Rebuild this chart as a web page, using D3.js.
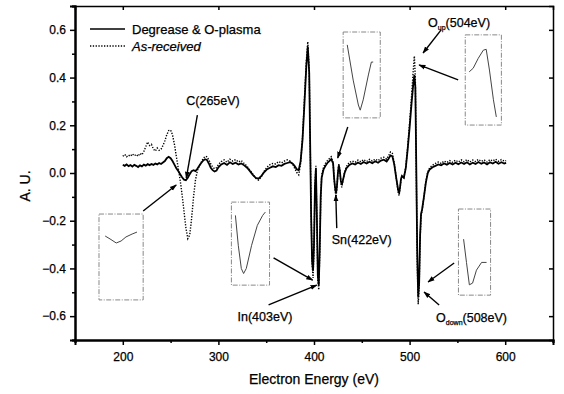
<!DOCTYPE html>
<html><head><meta charset="utf-8">
<script src="https://cdn.jsdelivr.net/npm/d3@7"></script>
<style>
html,body{margin:0;padding:0;background:#fff;}
text{font-family:"Liberation Sans",Arial,sans-serif;fill:#000;stroke:#000;stroke-width:0.25px;}
</style></head>
<body><svg id="c" width="564" height="394"></svg>
<script>
// ---- data ----
const xTicks = [200, 300, 400, 500, 600];
const yTicks = [-0.6, -0.4, -0.2, 0.0, 0.2, 0.4, 0.6];
const seriesNames = ["Degrease & O-plasma", "As-received"];

const solidE = [200,202,204,206,208,210,212,214,216,218,220,222,224,226,228,230,232,234,236,238,240,242,244,246,248,250,252,254,256,258,260,262,264,266,268,270,272,274,276,278,280,282,284,286,288,290,292,294,296,298,300,303,306,309,312,315,318,321,324,327,330,333,336,339,342,345,348,351,354,357,360,363,366,369,372,375,378,380,382,384,386,388,390,392,393.5,395,396,397,398,399,400,401,402,403,404,405,406,407,408,410,412,414,416,418,420,421,422,423,424,425,426,427,428,429,430,432,434,437,440,443,446,449,452,455,458,461,464,467,470,473,476,478,480,482,484,486,488,489,490,491,492,494,496,498,500,502,504,505,506,507,508,509,510,511,512,513,515,517,519,521,524,527,530,533,536,539,542,545,548,551,554,557,560,563,566,569,572,575,578,581,584,587,590,593,596,599,601];
const solidV = [0.035,0.03,0.036,0.029,0.033,0.027,0.034,0.03,0.025,0.032,0.028,0.035,0.031,0.037,0.033,0.038,0.034,0.04,0.036,0.042,0.038,0.044,0.05,0.062,0.068,0.062,0.05,0.035,0.02,0.008,-0.005,-0.018,-0.028,-0.03,-0.02,-0.005,0.008,0.012,0.008,0.018,0.03,0.042,0.052,0.058,0.055,0.04,0.022,0.012,0.006,0.01,0.024,0.036,0.042,0.034,0.045,0.038,0.043,0.036,0.04,0.032,0.022,0.008,-0.008,-0.02,-0.024,-0.012,0.004,0.016,0.022,0.028,0.025,0.033,0.03,0.038,0.042,0.046,0.038,0.028,0.016,0.012,0.05,0.14,0.29,0.45,0.53,0.42,0.12,-0.18,-0.37,-0.41,-0.3,-0.06,0.02,-0.18,-0.43,-0.47,-0.32,-0.1,-0.02,0.015,0.03,0.042,0.05,0.058,0.04,-0.02,-0.06,-0.085,-0.055,0.0,0.032,0.01,-0.03,-0.05,-0.035,0.0,0.02,0.034,0.04,0.036,0.044,0.038,0.046,0.04,0.047,0.041,0.049,0.043,0.052,0.056,0.048,0.06,0.074,0.07,0.035,-0.02,-0.07,-0.085,-0.06,-0.025,-0.012,-0.02,0.02,0.1,0.19,0.29,0.38,0.41,0.36,0.02,-0.34,-0.52,-0.46,-0.26,-0.17,-0.155,-0.1,-0.04,0.0,0.015,0.024,0.03,0.036,0.032,0.04,0.035,0.042,0.036,0.043,0.037,0.044,0.038,0.045,0.036,0.043,0.038,0.046,0.039,0.044,0.036,0.045,0.04,0.047,0.039,0.045,0.04,0.042];

const dotE = solidE.slice();
const dotV = [0.07,0.078,0.068,0.075,0.07,0.08,0.072,0.078,0.07,0.082,0.076,0.09,0.11,0.13,0.115,0.12,0.1,0.092,0.105,0.095,0.1,0.115,0.135,0.16,0.178,0.18,0.16,0.12,0.07,0.02,-0.03,-0.09,-0.16,-0.23,-0.275,-0.26,-0.19,-0.1,-0.03,0.01,0.03,0.045,0.06,0.07,0.068,0.055,0.038,0.025,0.018,0.022,0.035,0.048,0.055,0.045,0.058,0.05,0.056,0.046,0.052,0.04,0.028,0.012,-0.005,-0.022,-0.03,-0.015,0.008,0.025,0.035,0.04,0.038,0.048,0.042,0.05,0.055,0.05,0.035,0.018,0.002,-0.008,0.04,0.15,0.31,0.47,0.55,0.43,0.14,-0.16,-0.38,-0.44,-0.32,-0.05,0.03,-0.2,-0.45,-0.49,-0.34,-0.12,-0.01,0.025,0.04,0.052,0.06,0.068,0.045,-0.02,-0.07,-0.1,-0.065,0.0,0.04,0.015,-0.035,-0.06,-0.04,0.005,0.028,0.045,0.05,0.045,0.054,0.047,0.056,0.048,0.057,0.05,0.058,0.052,0.062,0.066,0.058,0.072,0.088,0.082,0.04,-0.02,-0.08,-0.095,-0.065,-0.03,-0.015,-0.02,0.025,0.11,0.21,0.32,0.44,0.49,0.4,0.0,-0.38,-0.55,-0.48,-0.28,-0.18,-0.16,-0.1,-0.035,0.005,0.022,0.033,0.04,0.046,0.04,0.05,0.044,0.052,0.045,0.054,0.046,0.055,0.047,0.056,0.046,0.054,0.048,0.057,0.049,0.055,0.046,0.056,0.05,0.058,0.049,0.056,0.05,0.052];

// annotation labels (energy, value anchor in data units)
const labels = [
  {main:"C(265eV)", sub:null, rest:null, e:266.4, v:0.285},
  {main:"Sn(422eV)", sub:null, rest:null, e:418.6, v:-0.298},
  {main:"In(403eV)", sub:null, rest:null, e:320, v:-0.62},
  {main:"O", sub:"up", rest:"(504eV)", e:519.3, v:0.612},
  {main:"O", sub:"down", rest:"(508eV)", e:527.7, v:-0.625}
];
// arrows [e0,v0,e1,v1] (head at end)
const arrows = [
  [278.0,0.243,266.4,-0.021],
  [221.3,-0.159,255.9,-0.05],
  [435.3,0.193,424.8,0.063],
  [423.8,-0.231,422.8,-0.092],
  [352.5,-0.553,402.9,-0.470],
  [357.7,-0.356,398.6,-0.449],
  [533.0,0.600,514.1,0.503],
  [550.8,0.390,509.9,0.453],
  [530.9,-0.553,515.1,-0.499],
  [546.6,-0.377,519.3,-0.457]
];
// inset boxes [e0,e1,vTop,vBottom]
const insetBoxes = [
  [175.1,221.3,-0.172,-0.532],
  [430.5,469.3,0.591,0.231],
  [558.2,596.0,0.579,0.201],
  [313.6,353.5,-0.122,-0.470],
  [551.1,584.7,-0.151,-0.512]
];
// inset magnified curves, fractional position within box
const insetX = [
  [0.14,0.25,0.39,0.5,0.61,0.75,0.86],
  [0.11,0.27,0.41,0.46,0.54,0.68,0.76,0.81],
  [0.11,0.22,0.36,0.5,0.58,0.67,0.78,0.86],
  [0.105,0.18,0.26,0.32,0.39,0.53,0.68,0.82,0.89],
  [0.16,0.25,0.34,0.44,0.56,0.72,0.875]
];
const insetY = [
  [0.256,0.29,0.337,0.314,0.267,0.233,0.21],
  [0.15,0.56,0.85,0.91,0.79,0.5,0.35,0.35],
  [0.41,0.37,0.26,0.17,0.16,0.39,0.72,0.91],
  [0.16,0.52,0.8,0.86,0.8,0.52,0.28,0.16,0.12],
  [0.35,0.62,0.88,0.86,0.71,0.62,0.62]
];

// ---- drawing ----
const svg = d3.select("#c");
const L=75, R=553, T=6, B=340;
const x = d3.scaleLinear().domain([150,650]).range([L,R]);
const y = d3.scaleLinear().domain([-0.7,0.7]).range([B,T]);

svg.append("defs").append("marker").attr("id","ah")
  .attr("viewBox","0 0 10 10").attr("refX",9).attr("refY",5)
  .attr("markerWidth",7).attr("markerHeight",7).attr("orient","auto-start-reverse")
  .attr("markerUnits","userSpaceOnUse")
  .append("path").attr("d","M0,1.5 L10,5 L0,8.5 Z").attr("fill","#000");

// axes
const xAx = svg.append("g").attr("transform",`translate(0,${B})`)
  .call(d3.axisBottom(x).tickValues(xTicks).tickSize(5).tickPadding(7).tickFormat(d3.format("d")));
const xMin = svg.append("g").attr("transform",`translate(0,${B})`)
  .call(d3.axisBottom(x).tickValues([150,250,350,450,550,650]).tickSize(3).tickFormat(""));
const yAx = svg.append("g").attr("transform",`translate(${L},0)`)
  .call(d3.axisLeft(y).tickValues(yTicks).tickSize(5).tickPadding(4).tickFormat(d3.format(".1f")));
const yMin = svg.append("g").attr("transform",`translate(${L},0)`)
  .call(d3.axisLeft(y).tickValues([-0.7,-0.5,-0.3,-0.1,0.1,0.3,0.5,0.7]).tickSize(3).tickFormat(""));
const xTop = svg.append("g").attr("transform",`translate(0,${T})`)
  .call(d3.axisTop(x).tickValues(xTicks).tickSize(-4).tickFormat(""));
const yRight = svg.append("g").attr("transform",`translate(${R},0)`)
  .call(d3.axisRight(y).tickValues(yTicks).tickSize(-4).tickFormat(""));
[xAx,xMin,yAx,yMin,xTop,yRight].forEach(g=>{
  g.select(".domain").attr("stroke","#000").attr("stroke-width",2);
  g.selectAll(".tick line").attr("stroke","#000").attr("stroke-width",1.5);
  g.selectAll(".tick text").attr("font-size",12).attr("font-family","Liberation Sans, Arial, sans-serif")
    .attr("fill","#000").attr("stroke","#000").attr("stroke-width",0.3);
});
xTop.select(".domain").attr("stroke-width",1.5);
yRight.select(".domain").attr("stroke-width",1.5);

// axis titles
svg.append("text").attr("x",314).attr("y",384).attr("text-anchor","middle")
  .attr("font-size",14).text("Electron Energy (eV)");
svg.append("text").attr("transform","translate(30,186) rotate(-90)").attr("text-anchor","middle")
  .attr("font-size",14).text("A. U.");

// curves
const line = d3.line().x(d=>x(d[0])).y(d=>y(d[1]));
svg.append("path").datum(dotE.map((e,i)=>[e,dotV[i]])).attr("d",line)
  .attr("fill","none").attr("stroke","#000").attr("stroke-width",1.4).attr("stroke-dasharray","1.3,1.5");
svg.append("path").datum(solidE.map((e,i)=>[e,solidV[i]])).attr("d",line)
  .attr("fill","none").attr("stroke","#000").attr("stroke-width",1.8);

// insets
insetBoxes.forEach((b,i)=>{
  const x0=x(b[0]), x1=x(b[1]), y0=y(b[2]), y1=y(b[3]);
  svg.append("rect").attr("x",x0).attr("y",y0).attr("width",x1-x0).attr("height",y1-y0)
    .attr("fill","none").attr("stroke","#888").attr("stroke-width",1).attr("stroke-dasharray","5,1.5,1,1.5");
  const ix = d3.scaleLinear().domain([0,1]).range([x0,x1]);
  const iy = d3.scaleLinear().domain([0,1]).range([y0,y1]);
  svg.append("path").datum(insetX[i].map((t,k)=>[t,insetY[i][k]]))
    .attr("d",d3.line().x(d=>ix(d[0])).y(d=>iy(d[1])))
    .attr("fill","none").attr("stroke","#444").attr("stroke-width",1);
});

// arrows
arrows.forEach(a=>{
  svg.append("line").attr("x1",x(a[0])).attr("y1",y(a[1])).attr("x2",x(a[2])).attr("y2",y(a[3]))
    .attr("stroke","#000").attr("stroke-width",1.4).attr("marker-end","url(#ah)");
});

// labels
labels.forEach(l=>{
  const t = svg.append("text").attr("x",x(l.e)).attr("y",y(l.v)).attr("font-size",12.5);
  t.append("tspan").text(l.main);
  if(l.sub){
    t.append("tspan").attr("dy",3).attr("font-size",7).text(l.sub);
    t.append("tspan").attr("dy",-3).text(l.rest);
  }
});

// legend
const lg = [{y:29,dash:null},{y:46,dash:"1.3,1.5"}];
lg.forEach((g,i)=>{
  const ln = svg.append("line").attr("x1",90).attr("x2",125).attr("y1",g.y).attr("y2",g.y)
    .attr("stroke","#000").attr("stroke-width",1.5);
  if(g.dash) ln.attr("stroke-dasharray",g.dash);
  const t = svg.append("text").attr("x",132).attr("y",g.y+4.5).attr("font-size",13).text(seriesNames[i]);
  if(i===1) t.attr("font-style","italic");
});
</script></body></html>
